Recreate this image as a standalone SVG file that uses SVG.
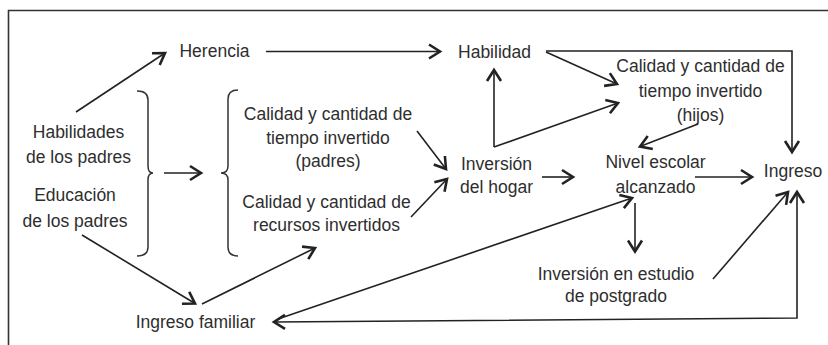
<svg xmlns="http://www.w3.org/2000/svg" width="828" height="345" viewBox="0 0 828 345">
<defs>
<marker id="ah" markerUnits="userSpaceOnUse" markerWidth="30" markerHeight="30" viewBox="-15 -15 30 30" refX="0" refY="0" orient="auto-start-reverse" overflow="visible">
<path d="M-11,-7 L0,0 L-11,7" fill="none" stroke="#222" stroke-width="2.6" stroke-linejoin="miter"/>
</marker>
<style>
text{font-family:"Liberation Sans",Arial,sans-serif;font-size:17.5px;fill:#2e2e2e;text-anchor:middle}
.c{fill:none;stroke:#222;stroke-width:1.6}
.a{marker-end:url(#ah)}
.b{fill:none;stroke:#333;stroke-width:1.5}
</style>
</defs>
<rect x="0" y="0" width="828" height="345" fill="#fff"/>
<path d="M830,10.5 H8.5 V347" fill="none" stroke="#333" stroke-width="1.6"/>

<g id="habilidades-padres"><text x="78.5" y="138">Habilidades</text><text x="78.5" y="163">de los padres</text></g>
<g id="educacion-padres"><text x="75" y="201">Educación</text><text x="75" y="227">de los padres</text></g>
<g id="herencia"><text x="214.5" y="57">Herencia</text></g>
<g id="habilidad"><text x="494.5" y="58">Habilidad</text></g>
<g id="calidad-hijos"><text x="700.5" y="72">Calidad y cantidad de</text><text x="700.5" y="96.5">tiempo invertido</text><text x="700.5" y="121">(hijos)</text></g>
<g id="calidad-padres"><text x="328" y="120">Calidad y cantidad de</text><text x="328" y="143.5">tiempo invertido</text><text x="328" y="167">(padres)</text></g>
<g id="calidad-recursos"><text x="326.5" y="208">Calidad y cantidad de</text><text x="326.5" y="231">recursos invertidos</text></g>
<g id="inversion-hogar"><text x="496.5" y="170">Inversión</text><text x="496.5" y="193">del hogar</text></g>
<g id="nivel-escolar"><text x="655.5" y="168">Nivel escolar</text><text x="655.5" y="193">alcanzado</text></g>
<g id="ingreso"><text x="793" y="177">Ingreso</text></g>
<g id="inversion-postgrado"><text x="616" y="280">Inversión en estudio</text><text x="616" y="302">de postgrado</text></g>
<g id="ingreso-familiar"><text x="195.5" y="328">Ingreso familiar</text></g>

<g id="braces">
<path class="b" d="M137,91 Q148,91 148,100 L148,166 Q148,173 153,173 Q148,173 148,180 L148,247 Q148,256 137,256"/>
<path class="b" d="M238,90 Q228,90 228,99 L228,166 Q228,173 221,173 Q228,173 228,180 L228,247 Q228,256 238,256"/>
</g>

<g id="connectors">
<path class="c a" d="M76,112 L165,53"/>
<path class="c a" d="M266,51.5 L440,51.5"/>
<path class="c a" d="M546,51 L792,51 L792,152"/>
<path class="c a" d="M546,52 L617,84"/>
<path class="c a" d="M494,147 L494,70"/>
<path class="c a" d="M494,147 L618,103"/>
<path class="c a" d="M698,124 L640,146.5"/>
<path class="c a" d="M695,177 L752,177"/>
<path class="c a" d="M164,173 L201,173"/>
<path class="c a" d="M417,131 L446,169"/>
<path class="c a" d="M411,217 L447,179"/>
<path class="c a" d="M542,177 L573,177"/>
<path class="c a" d="M635,203 L635,251.5"/>
<path class="c a" d="M713,279 L788,192"/>
<path class="c a" d="M82,235 L195,303.5"/>
<path class="c a" d="M202,304 L315,248"/>
<path class="c a" d="M278,319 L632,198"/>
<path class="c a" d="M797,192 L797,318 L274,322" style="marker-start:url(#ah)"/>
</g>
</svg>
